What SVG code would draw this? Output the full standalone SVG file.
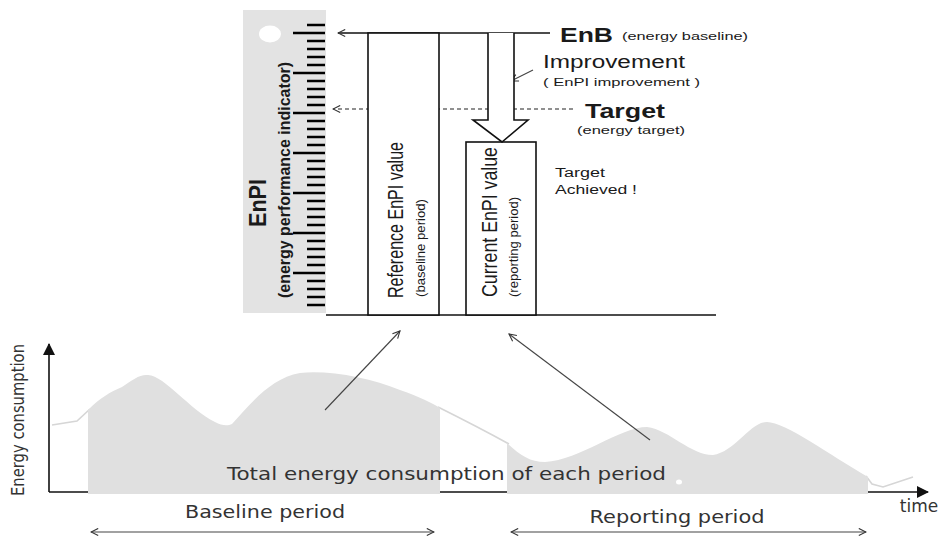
<svg xmlns="http://www.w3.org/2000/svg" width="946" height="539" viewBox="0 0 946 539">
<defs>
<style>
.ln{fill:none;stroke:#111;stroke-width:1.6}
.bx{fill:#fff;stroke:#111;stroke-width:1.6}
.ar{font-family:"Liberation Sans",Arial,sans-serif;fill:#1a1a1a}
.vd{font-family:"DejaVu Sans",Verdana,sans-serif;fill:#333}
.gr{fill:#e0e0e0}
.cv{fill:none;stroke:#d6d6d6;stroke-width:1.6}
.thin{fill:none;stroke:#444;stroke-width:1.1}
</style>
<marker id="open" viewBox="0 0 10 10" refX="9" refY="5" markerWidth="9" markerHeight="9" orient="auto-start-reverse" markerUnits="userSpaceOnUse">
<path d="M1,1 L9,5 L1,9" fill="none" stroke="#333" stroke-width="1.2"/>
</marker>
<marker id="solid" viewBox="0 0 12 12" refX="11" refY="6" markerWidth="12" markerHeight="12" orient="auto" markerUnits="userSpaceOnUse">
<path d="M0,0 L12,6 L0,12 Z" fill="#111"/>
</marker>
</defs>
<rect width="946" height="539" fill="#fff"/>

<g id="chart">
<path class="cv" d="M52,425 L77,421 L90,409"/>
<path class="cv" d="M438,407 C460,418 480,428 509,444"/>
<path class="cv" d="M866,476 L872,484 L883,487 L913,477"/>
<path class="ln" d="M49,492 H928" marker-end="url(#solid)" stroke-width="1.4"/>
<path class="ln" d="M49,492 V344" marker-end="url(#solid)" stroke-width="1.4"/>
<path class="gr" d="M88,494 L88,410 C100,398 110,392 122,387 C132,380 140,374 148,375 C165,376 190,410 215,422 C222,426 228,426 232,424 C250,405 270,378 300,373 C330,370 370,378 400,390 C420,397 432,403 440,408 L440,494 Z"/>
<path class="gr" d="M507,494 L507,443 C520,455 530,462 545,462 C580,460 620,427 647,427 C670,430 690,455 713,455 C735,452 750,422 767,422 C785,422 830,455 868,477 L868,494 Z"/>
<ellipse cx="679" cy="482" rx="3" ry="2.5" fill="#fff"/>
<text class="vd" x="227" y="480" font-size="18" textLength="439" lengthAdjust="spacingAndGlyphs">Total energy consumption of each period</text>
<text class="vd" x="24" y="420" font-size="18" text-anchor="middle" transform="rotate(-90 24 420)" textLength="152" lengthAdjust="spacingAndGlyphs">Energy consumption</text>
<text class="vd" x="919" y="512" font-size="17" text-anchor="middle">time</text>
</g>

<g id="periods">
<text class="vd" x="265" y="518" font-size="17" text-anchor="middle" textLength="160" lengthAdjust="spacingAndGlyphs">Baseline period</text>
<path class="thin" d="M91,532 H434" marker-start="url(#open)" marker-end="url(#open)"/>
<text class="vd" x="677" y="523" font-size="17" text-anchor="middle" textLength="175" lengthAdjust="spacingAndGlyphs">Reporting period</text>
<path class="thin" d="M511,532 H866" marker-start="url(#open)" marker-end="url(#open)"/>
</g>

<g id="ruler">
<rect x="243" y="10" width="83" height="303" fill="#e3e3e3"/>
<ellipse cx="270" cy="34" rx="11" ry="8.5" fill="#fff"/>
<path d="M307,25H325M307,41H325M307,49H325M307,57H325M307,65H325M307,81H325M307,89H325M307,97H325M307,105H325M307,121H325M307,129H325M307,137H325M307,145H325M307,161H325M307,169H325M307,177H325M307,185H325M307,201H325M307,209H325M307,217H325M307,225H325M307,241H325M307,249H325M307,257H325M307,265H325M307,281H325M307,289H325M307,297H325M307,305H325" stroke="#000" stroke-width="2.6"/>
<path d="M293,33H325M293,73H325M293,113H325M293,153H325M293,193H325M293,233H325M293,273H325" stroke="#000" stroke-width="2.6"/>
<text class="ar" x="266" y="203" font-size="24" font-weight="bold" text-anchor="middle" transform="rotate(-90 266 203)" textLength="48" lengthAdjust="spacingAndGlyphs">EnPI</text>
<text class="ar" x="290" y="180" font-size="17" font-weight="bold" text-anchor="middle" transform="rotate(-90 290 180)" textLength="236" lengthAdjust="spacingAndGlyphs">(energy performance indicator)</text>
</g>

<g id="connectors">
<path class="ln" d="M550,33 H338" marker-end="url(#open)" stroke-width="1.4"/>
<path d="M573,109 H333" fill="none" stroke="#222" stroke-width="1.2" stroke-dasharray="4,3" marker-end="url(#open)"/>
<path class="thin" d="M533,70 L511,81" marker-end="url(#open)"/>
<path class="thin" d="M325,410 L400,331" marker-end="url(#open)"/>
<path class="thin" d="M650,440 L509,334" marker-end="url(#open)"/>
<path class="ln" d="M326,315 H716"/>
</g>

<g id="reference-box">
<rect class="bx" x="368" y="33" width="71" height="282"/>
<text class="ar" x="403" y="220" font-size="22" text-anchor="middle" transform="rotate(-90 403 220)" textLength="156" lengthAdjust="spacingAndGlyphs">Reference EnPI value</text>
<text class="ar" x="425" y="248" font-size="12" text-anchor="middle" transform="rotate(-90 425 248)" textLength="98" lengthAdjust="spacingAndGlyphs">(baseline period)</text>
</g>

<g id="current-box">
<rect class="bx" x="466" y="142" width="70" height="173"/>
<text class="ar" x="497" y="222" font-size="22" text-anchor="middle" transform="rotate(-90 497 222)" textLength="150" lengthAdjust="spacingAndGlyphs">Current EnPI value</text>
<text class="ar" x="518" y="247" font-size="12" text-anchor="middle" transform="rotate(-90 518 247)" textLength="100" lengthAdjust="spacingAndGlyphs">(reporting period)</text>
</g>

<g id="improvement-arrow">
<path d="M488,33 V120 H473 L502,142 L528,120 H514 V33" fill="#fff" stroke="#111" stroke-width="1.6"/>
</g>

<g id="labels">
<text class="ar" x="560" y="42" font-size="20" font-weight="bold" textLength="53" lengthAdjust="spacingAndGlyphs">EnB</text>
<text class="ar" x="622" y="40" font-size="11" textLength="126" lengthAdjust="spacingAndGlyphs">(energy baseline)</text>
<text class="ar" x="543" y="68" font-size="18" textLength="142" lengthAdjust="spacingAndGlyphs">Improvement</text>
<text class="ar" x="543" y="86" font-size="11" textLength="157" lengthAdjust="spacingAndGlyphs">( EnPI improvement )</text>
<text class="ar" x="585" y="118" font-size="20" font-weight="bold" textLength="80" lengthAdjust="spacingAndGlyphs">Target</text>
<text class="ar" x="577" y="134" font-size="11" textLength="108" lengthAdjust="spacingAndGlyphs">(energy target)</text>
<text class="ar" x="555" y="177" font-size="12" textLength="50" lengthAdjust="spacingAndGlyphs">Target</text>
<text class="ar" x="555" y="194" font-size="12" textLength="82" lengthAdjust="spacingAndGlyphs">Achieved !</text>
</g>
</svg>
